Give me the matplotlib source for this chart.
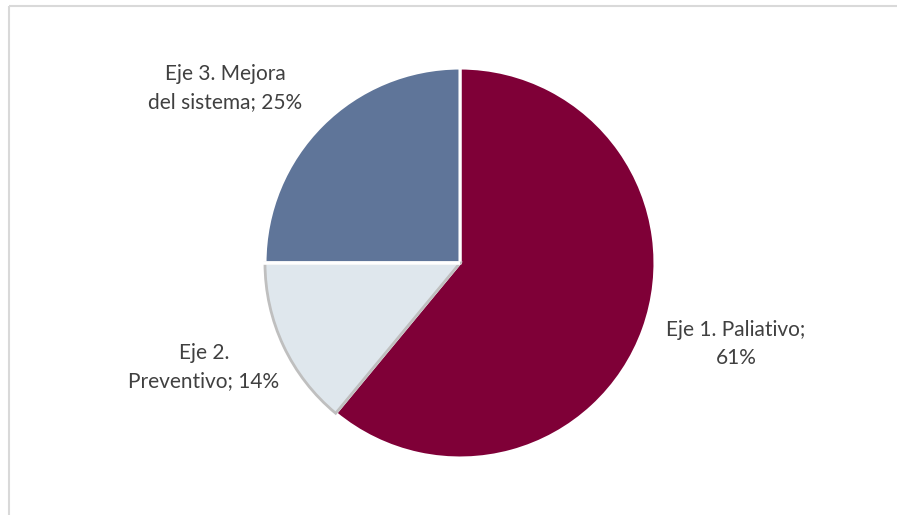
import matplotlib
matplotlib.use("Agg")
import matplotlib.pyplot as plt
import numpy as np

categories = ["Eje 1. Paliativo", "Eje 2. Preventivo", "Eje 3. Mejora del sistema"]
values = [61, 14, 25]
labels = ["Eje 1. Paliativo;\n61%", "Eje 2.\nPreventivo; 14%", "Eje 3. Mejora\ndel sistema; 25%"]
colors = ["#7F0037", "#DFE7ED", "#5F7599"]

W, H = 897, 515
fig = plt.figure(figsize=(W / 100, H / 100), dpi=100)
ax = fig.add_axes([0, 0, 1, 1])

cx, cy, r = 460, H - 263, 195
explode = [0, 0.02, 0]
wedges, _ = ax.pie(values, startangle=90, counterclock=False, colors=colors,
                   center=(cx, cy), radius=r, explode=explode,
                   wedgeprops=dict(edgecolor="white", linewidth=2.2))

# grey outline on the exploded slice
w2 = wedges[1]
w2.set_edgecolor("#BFBFBF")
w2.set_linewidth(2.0)
w2.set_zorder(3)
# white gap on its top edge
c2 = w2.center
ax.plot([c2[0], c2[0] - r - 2], [c2[1], c2[1]], color="white", lw=2.6,
        zorder=4, solid_capstyle="butt")

label_pos = [(736, 344), (204, 367), (225, 88)]
for lab, (x, y) in zip(labels, label_pos):
    ax.text(x, H - y, lab, ha="center", va="center", fontsize=15,
            family="Lato", color="#404040", linespacing=1.45)

# outer frame (left and top visible)
ax.plot([8.5, 8.5], [0, H - 5.5], color="#D9D9D9", lw=1.5, solid_capstyle="butt")
ax.plot([8.5, W], [H - 5.5, H - 5.5], color="#D9D9D9", lw=1.5, solid_capstyle="butt")

ax.set_xlim(0, W)
ax.set_ylim(0, H)
ax.set_axis_off()
fig.savefig("out.png", dpi=100)
